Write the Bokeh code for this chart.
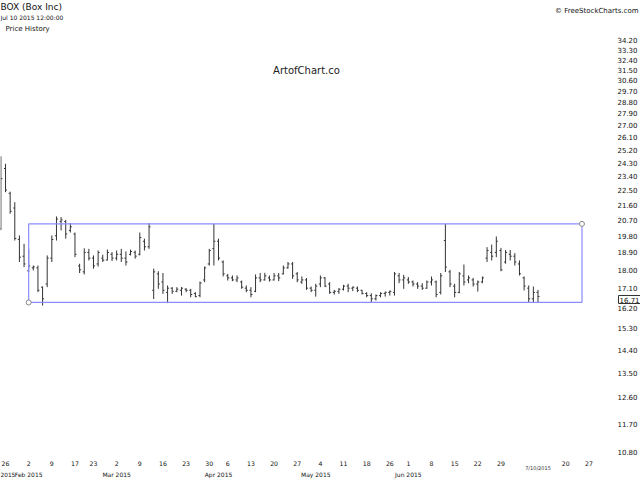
from bokeh.plotting import figure
from bokeh.models import (FixedTicker, LinearAxis, PrintfTickFormatter, Label,
                          Range1d, ColumnDataSource)
from bokeh.embed import file_html
from bokeh.resources import INLINE

# ---------------- data ----------------
dates = ["2015-01-23", "2015-01-26", "2015-01-27", "2015-01-28", "2015-01-29", "2015-01-30",
         "2015-02-02", "2015-02-03", "2015-02-04", "2015-02-05", "2015-02-06",
         "2015-02-09", "2015-02-10", "2015-02-11", "2015-02-12", "2015-02-13",
         "2015-02-17", "2015-02-18", "2015-02-19", "2015-02-20",
         "2015-02-23", "2015-02-24", "2015-02-25", "2015-02-26", "2015-02-27",
         "2015-03-02", "2015-03-03", "2015-03-04", "2015-03-05", "2015-03-06",
         "2015-03-09", "2015-03-10", "2015-03-11", "2015-03-12", "2015-03-13",
         "2015-03-16", "2015-03-17", "2015-03-18", "2015-03-19", "2015-03-20",
         "2015-03-23", "2015-03-24", "2015-03-25", "2015-03-26", "2015-03-27",
         "2015-03-30", "2015-03-31", "2015-04-01", "2015-04-02",
         "2015-04-06", "2015-04-07", "2015-04-08", "2015-04-09", "2015-04-10",
         "2015-04-13", "2015-04-14", "2015-04-15", "2015-04-16", "2015-04-17",
         "2015-04-20", "2015-04-21", "2015-04-22", "2015-04-23", "2015-04-24",
         "2015-04-27", "2015-04-28", "2015-04-29", "2015-04-30", "2015-05-01",
         "2015-05-04", "2015-05-05", "2015-05-06", "2015-05-07", "2015-05-08",
         "2015-05-11", "2015-05-12", "2015-05-13", "2015-05-14", "2015-05-15",
         "2015-05-18", "2015-05-19", "2015-05-20", "2015-05-21", "2015-05-22",
         "2015-05-26", "2015-05-27", "2015-05-28", "2015-05-29",
         "2015-06-01", "2015-06-02", "2015-06-03", "2015-06-04", "2015-06-05",
         "2015-06-08", "2015-06-09", "2015-06-10", "2015-06-11", "2015-06-12",
         "2015-06-15", "2015-06-16", "2015-06-17", "2015-06-18", "2015-06-19",
         "2015-06-22", "2015-06-23", "2015-06-24", "2015-06-25", "2015-06-26",
         "2015-06-29", "2015-06-30", "2015-07-01", "2015-07-02",
         "2015-07-06", "2015-07-07", "2015-07-08", "2015-07-09", "2015-07-10"]

opens = [20.20, 23.90, 22.30, 21.40, 19.60, 18.70,
         17.95, 18.10, 18.10, 17.15, 17.30,
         18.60, 19.80, 20.60, 20.60, 20.10,
         19.90, 18.20, 17.90, 18.90,
         18.60, 18.30, 18.60, 18.50, 18.80,
         18.60, 18.80, 18.60, 18.80, 18.90,
         18.80, 19.50, 19.20, 17.00, 17.80,
         17.40, 16.90, 17.10, 16.95, 17.00,
         17.05, 17.00, 16.85, 16.75, 17.50,
         18.30, 19.10, 19.50, 18.40,
         17.70, 17.60, 17.50, 17.40, 17.10,
         17.00, 16.95, 17.60, 17.50, 17.60,
         17.50, 17.70, 17.80, 18.10, 18.30,
         17.80, 17.40, 17.50, 17.10, 17.00,
         17.30, 17.60, 17.30, 16.90, 16.95,
         17.05, 17.20, 17.10, 17.10, 17.00,
         16.85, 16.75, 16.60, 16.75, 16.85,
         16.90, 16.90, 17.70, 17.50,
         17.50, 17.40, 17.30, 17.20, 17.10,
         17.40, 17.40, 16.90, 19.54, 17.90,
         17.20, 16.90, 17.70, 17.50, 17.50,
         17.30, 17.40, 18.60, 18.90, 18.90,
         19.00, 18.40, 18.80, 18.70,
         18.30, 17.60, 17.10, 16.60, 16.90]

highs = [24.73, 24.22, 22.40, 21.75, 19.82, 19.36,
         19.09, 18.22, 18.22, 17.18, 18.74,
         19.82, 20.90, 20.86, 20.70, 20.52,
         19.98, 18.31, 19.12, 19.09,
         18.74, 19.00, 18.78, 19.05, 18.92,
         19.00, 19.09, 18.95, 19.05, 19.00,
         19.98, 19.64, 20.52, 18.06, 17.93,
         17.84, 17.23, 17.15, 17.15, 17.15,
         17.10, 17.07, 16.91, 17.42, 18.17,
         19.09, 20.48, 19.64, 18.48,
         17.80, 17.72, 17.72, 17.47, 17.23,
         17.15, 17.77, 17.84, 17.85, 17.72,
         17.84, 17.84, 18.22, 18.40, 18.40,
         17.89, 17.67, 17.59, 17.18, 17.31,
         17.72, 17.64, 17.39, 17.02, 17.10,
         17.26, 17.31, 17.18, 17.18, 17.02,
         16.91, 16.86, 16.80, 16.91, 16.94,
         16.99, 17.89, 17.84, 17.75,
         17.64, 17.47, 17.39, 17.34, 17.47,
         17.67, 17.47, 17.84, 20.48, 18.00,
         17.31, 17.89, 18.27, 17.72, 17.60,
         17.47, 17.67, 19.18, 19.32, 19.76,
         19.14, 19.03, 19.03, 18.86,
         18.48, 17.67, 17.23, 17.18, 17.02]

lows = [20.11, 22.37, 21.06, 19.54, 18.40, 18.14,
        17.89, 17.97, 16.91, 16.29, 17.15,
        18.40, 19.54, 20.10, 19.64, 19.98,
        18.65, 17.84, 17.77, 18.48,
        18.06, 18.17, 18.40, 18.48, 18.45,
        18.48, 18.40, 18.22, 18.74, 18.57,
        18.74, 19.00, 19.09, 16.59, 17.07,
        16.83, 16.40, 16.83, 16.91, 16.75,
        16.91, 16.67, 16.67, 16.67, 17.39,
        18.22, 18.22, 18.48, 17.67,
        17.47, 17.44, 17.39, 17.07, 16.91,
        16.67, 16.91, 17.39, 17.47, 17.42,
        17.47, 17.44, 17.77, 18.06, 17.55,
        17.39, 17.31, 17.02, 16.91, 16.70,
        17.15, 17.15, 16.83, 16.80, 16.83,
        16.99, 16.91, 16.96, 16.91, 16.80,
        16.67, 16.44, 16.52, 16.67, 16.70,
        16.75, 16.75, 17.34, 17.07,
        17.31, 17.18, 17.07, 17.02, 17.07,
        17.23, 16.67, 16.80, 17.89, 17.15,
        16.67, 16.86, 17.23, 17.34, 17.18,
        16.94, 17.34, 18.40, 18.48, 18.65,
        17.93, 18.31, 18.48, 18.22,
        17.72, 16.99, 16.44, 16.44, 16.44]

closes = [23.23, 22.50, 21.20, 19.65, 18.65, 18.30,
          18.20, 18.15, 17.00, 16.60, 18.60,
          19.60, 20.75, 20.70, 19.90, 20.30,
          18.80, 18.00, 18.90, 18.60,
          18.20, 18.90, 18.50, 18.90, 18.60,
          18.80, 18.60, 18.40, 18.95, 18.70,
          19.70, 19.20, 20.30, 17.90, 17.30,
          17.00, 17.10, 16.95, 17.05, 17.10,
          17.00, 16.80, 16.70, 17.35, 18.10,
          19.00, 19.50, 18.60, 17.80,
          17.60, 17.50, 17.60, 17.15, 17.00,
          16.80, 17.60, 17.50, 17.70, 17.50,
          17.70, 17.60, 18.10, 18.30, 17.70,
          17.50, 17.50, 17.10, 17.00, 17.20,
          17.60, 17.20, 16.90, 16.95, 17.05,
          17.20, 17.10, 17.15, 17.00, 16.85,
          16.75, 16.60, 16.75, 16.85, 16.90,
          16.95, 17.80, 17.50, 17.60,
          17.40, 17.30, 17.20, 17.10, 17.40,
          17.50, 16.80, 17.70, 18.14, 17.30,
          16.90, 17.80, 17.40, 17.60, 17.30,
          17.40, 17.60, 19.00, 18.70, 19.50,
          18.00, 18.90, 18.70, 18.40,
          17.80, 17.20, 16.60, 16.90, 16.71]

# x-axis labels (trading-day index of each week start) and month labels
week_ticks = [1, 6, 11, 16, 20, 25, 30, 35, 40, 45, 49, 54, 59, 64,
              69, 74, 79, 84, 88, 93, 98, 103, 108, 122, 127]
week_labels = ["26", "2", "9", "17", "23", "2", "9", "16", "23", "30", "6", "13", "20", "27",
               "4", "11", "18", "26", "1", "8", "15", "22", "29", "20", "27"]
month_ticks = [6, 25, 47, 68, 88]
month_labels = ["Feb 2015", "Mar 2015", "Apr 2015", "May 2015", "Jun 2015"]
first_month_label = "2015"        # the "Jan 2015" label, of which only the year shows

y_ticks = [10.80, 11.70, 12.60, 13.50, 14.40, 15.30, 16.20, 17.10, 18.00, 18.90,
           19.80, 20.70, 21.60, 22.50, 23.40, 24.30, 25.20, 26.10, 27.00, 27.90,
           28.80, 29.70, 30.60, 31.50, 32.40, 33.30, 34.20]

# drawn channel (rectangle) corners: trading-day index and price
channel_x = [6, 125.5]
channel_y = [16.43, 20.47]

last_price = closes[-1]
current_date_label = "7/10/2015"
current_date_index = 116

# ---------------- figure ----------------
FONT = "DejaVu Sans"
BAR = "#333333"
TXT = "#111111"

X0, X1 = -0.086, 138.14          # 4.63 px per trading day
Y0, Y1 = 9.985, 38.24            # log price scale over 480 px
PRICE_AXIS_AT = 132.74           # x location of the price axis
DAY_AXIS_AT = 10.708             # price level where the day labels hang
MONTH_AXIS_AT = 10.326           # price level where the month labels hang

idx = list(range(len(dates)))
src = ColumnDataSource(dict(
    x=idx,
    xl=[i - 0.33 for i in idx],
    xr=[i + 0.33 for i in idx],
    o=opens, h=highs, l=lows, c=closes,
))

p = figure(width=640, height=480, output_backend="svg", toolbar_location=None,
           y_axis_type="log", y_axis_location="right",
           x_range=Range1d(X0, X1), y_range=Range1d(Y0, Y1))
p.min_border_left = 0
p.min_border_top = 0
p.min_border_right = 0
p.min_border_bottom = 0
p.outline_line_color = None
p.xgrid.grid_line_color = None
p.ygrid.grid_line_color = None
p.background_fill_color = "white"
p.border_fill_color = "white"

# OHLC bars
p.segment(x0="x", y0="l", x1="x", y1="h", source=src, line_color=BAR, line_width=1)
p.segment(x0="xl", y0="o", x1="x", y1="o", source=src, line_color=BAR, line_width=1)
p.segment(x0="x", y0="c", x1="xr", y1="c", source=src, line_color=BAR, line_width=1)

# channel rectangle
p.quad(left=[channel_x[0]], right=[channel_x[1]], bottom=[channel_y[0]], top=[channel_y[1]],
       fill_alpha=0, line_color="#8a8cff", line_width=1.2)
p.scatter(x=channel_x, y=channel_y, marker="circle", size=5,
          fill_color="white", line_color="#888888", line_width=1)


def plain(axis, size, standoff):
    axis.axis_line_color = None
    axis.major_tick_line_color = None
    axis.minor_tick_line_color = None
    axis.major_tick_out = 0
    axis.major_tick_in = 0
    axis.minor_tick_out = 0
    axis.minor_tick_in = 0
    axis.major_label_standoff = standoff
    axis.major_label_text_font = FONT
    axis.major_label_text_font_size = size
    axis.major_label_text_color = TXT


# price axis (right)
ya = p.yaxis[0]
ya.ticker = FixedTicker(ticks=y_ticks)
ya.formatter = PrintfTickFormatter(format="%.2f")
ya.fixed_location = PRICE_AXIS_AT
plain(ya, "7px", 2)

# time axis: week labels
xa = p.xaxis[0]
xa.ticker = FixedTicker(ticks=week_ticks)
xa.major_label_overrides = {t: s for t, s in zip(week_ticks, week_labels)}
xa.fixed_location = DAY_AXIS_AT
plain(xa, "6.2px", 5)

# time axis: month labels
ma = LinearAxis(ticker=FixedTicker(ticks=month_ticks),
                major_label_overrides={t: s for t, s in zip(month_ticks, month_labels)})
ma.fixed_location = MONTH_AXIS_AT
plain(ma, "6px", 3)
p.add_layout(ma, "below")
p.add_layout(Label(x=0, y=MONTH_AXIS_AT, x_units="screen", y_units="data",
                   y_offset=-4, text=first_month_label, text_font=FONT, text_font_size="5.8px",
                   text_baseline="top", text_align="left", text_color=TXT))

# header texts (screen units measured from the frame's bottom-left)
p.add_layout(Label(x=0, y=474, x_units="screen", y_units="screen", text="BOX (Box Inc)",
                   text_font=FONT, text_font_size="9px", text_baseline="middle",
                   text_color=TXT))
p.add_layout(Label(x=0, y=463, x_units="screen", y_units="screen", text="Jul 10 2015 12:00:00",
                   text_font=FONT, text_font_size="6px", text_baseline="middle",
                   text_color=TXT))
p.add_layout(Label(x=5, y=452, x_units="screen", y_units="screen", text="Price History",
                   text_font=FONT, text_font_size="7px", text_baseline="middle",
                   text_color=TXT))
p.add_layout(Label(x=306, y=410, x_units="screen", y_units="screen", text="ArtofChart.co",
                   text_font=FONT, text_font_size="10px", text_baseline="middle",
                   text_align="center", text_color="#222222"))
p.add_layout(Label(x=638, y=470, x_units="screen", y_units="screen",
                   text="\u00a9 FreeStockCharts.com",
                   text_font=FONT, text_font_size="7px", text_baseline="middle",
                   text_align="right", text_color=TXT))

# last price box on the price axis
p.add_layout(Label(x=618, y=181, x_units="screen", y_units="screen",
                   text="%.2f" % last_price, text_font=FONT, text_font_size="7px",
                   text_baseline="middle", text_color=TXT,
                   background_fill_color="white", border_line_color="#333333",
                   border_line_width=1, padding=1))

# current date marker on the time axis
p.add_layout(Label(x=current_date_index, y=13, x_units="data", y_units="screen",
                   text=current_date_label, text_font=FONT, text_font_size="5px",
                   text_baseline="middle", text_align="center", text_color="#333333"))

open("out.html", "w").write(file_html(p, INLINE))
